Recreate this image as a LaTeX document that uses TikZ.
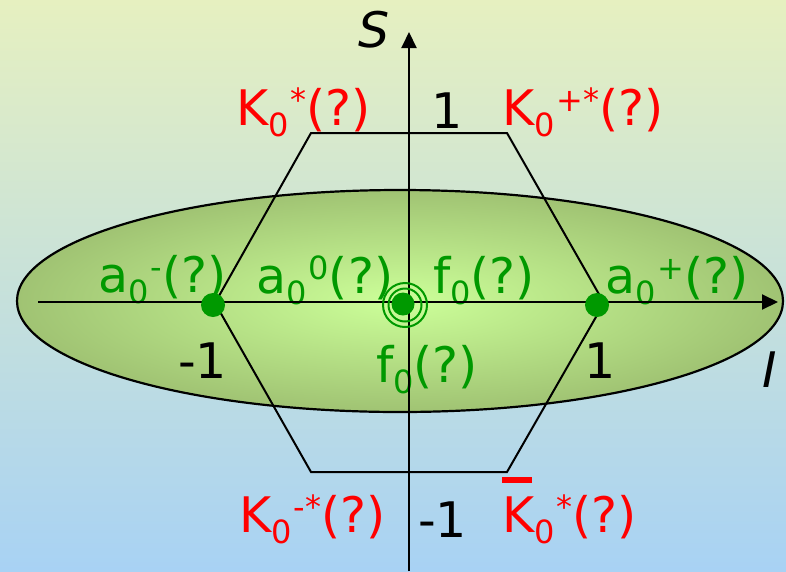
\documentclass[tikz,border=0pt]{standalone}
\usepackage{fontspec}
\setmainfont{DejaVu Sans}
\usetikzlibrary{arrows.meta}

\definecolor{bgtop}{RGB}{230,240,192}
\definecolor{bgbot}{RGB}{168,210,244}
\definecolor{elin}{RGB}{204,255,153}
\definecolor{elout}{RGB}{160,195,115}
\definecolor{pgreen}{RGB}{0,153,0}

\newcommand{\lo}[1]{\raisebox{-11pt}{\fontsize{32}{32}\selectfont #1}}
\newcommand{\hi}[1]{\hspace{2pt}\raisebox{14pt}{\fontsize{32}{32}\selectfont #1}}

\begin{document}
\begin{tikzpicture}[x=1pt, y=-1pt,
    lbl/.style={inner sep=0pt, anchor=base west, font=\fontsize{49}{56}\selectfont},
    redlbl/.style={lbl, text=red},
    grnlbl/.style={lbl, text=pgreen},
    blklbl/.style={lbl, text=black},
    axline/.style={line width=2pt, -{Triangle[length=16pt, width=15pt]}},
    hexline/.style={line width=2pt, line join=miter},
    statedot/.style={circle, fill=pgreen, inner sep=0pt, minimum size=24pt}
]
\useasboundingbox (0,0) rectangle (786,571);
\fill[top color=bgtop, bottom color=bgbot] (0,0) rectangle (786,571);

% mass ellipse
\draw[line width=2.2pt, inner color=elin, outer color=elout]
    (400,301) ellipse [x radius=383, y radius=111];

% labels
\node[redlbl] (kst) at (236,125) {K\lo{0}\hi{*}(?)};
\node[blklbl] (stop) at (431,128) {1};
\node[redlbl] (kpst) at (502,125) {K\lo{0}\hi{+*}(?)};
\node[grnlbl] (am) at (98,292) {a\lo{0}\hi{-}(?)};
\node[grnlbl] (azero) at (256,293) {a\lo{0}\hi{0}(?)};
\node[grnlbl] (fup) at (433,293) {f\lo{0}(?)};
\node[grnlbl] (ap) at (605,293) {a\lo{0}\hi{+}(?)};
\node[blklbl] (ileft) at (178,378) {-1};
\node[grnlbl] (fdown) at (376,382) {f\lo{0}(?)};
\node[blklbl] (iright) at (584,378) {1};
\node[redlbl] (kmst) at (239,532) {K\lo{0}\hi{-*}(?)};
\node[blklbl] (sbot) at (418,537) {-1};
\node[redlbl] (kbst) at (502,532)
    {\makebox[0pt][l]{\raisebox{49pt}{\rule{30pt}{6pt}}}K\lo{0}\hi{*}(?)};
\node[blklbl] (slbl) at (358,47) {\itshape S};
\node[blklbl] (ilbl) at (762,387) {\itshape I};

% hexagon
\coordinate (h1) at (311,133);
\coordinate (h2) at (507,133);
\coordinate (h3) at (604,303);
\coordinate (h4) at (507,472);
\coordinate (h5) at (311,472);
\coordinate (h6) at (215,303);
\draw[hexline] (h1) -- (h2) -- (h3) -- (h4) -- (h5) -- (h6) -- cycle;

% axes
\coordinate (xl) at (38,302);
\coordinate (xr) at (778,302);
\coordinate (yb) at (409,571);
\coordinate (yt) at (409,32);
\draw[axline] (xl) -- (xr);
\draw[axline] (yb) -- (yt);

% states
\node[statedot] (aleft) at (213,305) {};
\node[statedot] (aright) at (597,305) {};
\node[statedot, minimum size=23pt] (mid) at (403,304) {};
\draw[pgreen, line width=2pt] (405,305) circle [radius=16.5];
\draw[pgreen, line width=2pt] (405,305) circle [radius=22];
\end{tikzpicture}
\end{document}
